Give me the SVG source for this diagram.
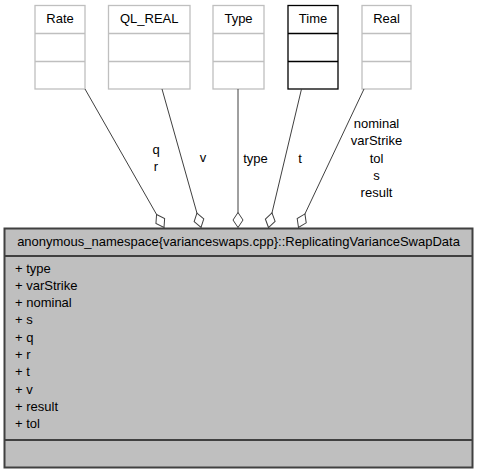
<svg xmlns="http://www.w3.org/2000/svg" width="477" height="475" viewBox="0 0 477 475">
<style>
text{font-family:"Liberation Sans",Arial,sans-serif;font-size:13px;fill:#000}
.c{text-anchor:middle}
.box{fill:#fff;stroke:#bfbfbf;stroke-width:1.3}
.dark{fill:#fff;stroke:#000;stroke-width:1.3}
.main{fill:#bfbfbf;stroke:#404040;stroke-width:2}
.edge{fill:none;stroke:#404040;stroke-width:1;marker-end:url(#od)}
</style>
<defs>
<marker id="od" markerUnits="userSpaceOnUse" markerWidth="20" markerHeight="14" viewBox="-1 -7 18 14" refX="15" refY="0" orient="auto" overflow="visible">
<path d="M0,0 L7.5,-5 L15,0 L7.5,5 Z" fill="#fff" stroke="#404040" stroke-width="1"/>
</marker>
</defs>
<rect width="477" height="475" fill="#fff"/>
<g id="node-Rate">
<rect class="box" x="35" y="5.5" width="50" height="83.5"/>
<line class="box" x1="35" y1="33.5" x2="85" y2="33.5"/>
<line class="box" x1="35" y1="61.5" x2="85" y2="61.5"/>
<text class="c" x="60" y="23">Rate</text>
</g>
<g id="node-QL_REAL">
<rect class="box" x="108.5" y="5.5" width="81.5" height="83.5"/>
<line class="box" x1="108.5" y1="33.5" x2="190" y2="33.5"/>
<line class="box" x1="108.5" y1="61.5" x2="190" y2="61.5"/>
<text class="c" x="149.25" y="23">QL_REAL</text>
</g>
<g id="node-Type">
<rect class="box" x="213" y="5.5" width="51" height="83.5"/>
<line class="box" x1="213" y1="33.5" x2="264" y2="33.5"/>
<line class="box" x1="213" y1="61.5" x2="264" y2="61.5"/>
<text class="c" x="238.5" y="23">Type</text>
</g>
<g id="node-Time">
<rect class="dark" x="288" y="5.5" width="50" height="83.5"/>
<line class="dark" x1="288" y1="33.5" x2="338" y2="33.5"/>
<line class="dark" x1="288" y1="61.5" x2="338" y2="61.5"/>
<text class="c" x="313" y="23">Time</text>
</g>
<g id="node-Real">
<rect class="box" x="362" y="5.5" width="49" height="83.5"/>
<line class="box" x1="362" y1="33.5" x2="411" y2="33.5"/>
<line class="box" x1="362" y1="61.5" x2="411" y2="61.5"/>
<text class="c" x="386.5" y="23">Real</text>
</g>
<g id="node-ReplicatingVarianceSwapData">
<rect class="main" x="4.5" y="228.5" width="468" height="239"/>
<line class="main" x1="4.5" y1="256" x2="472.5" y2="256"/>
<line class="main" x1="4.5" y1="440" x2="472.5" y2="440"/>
<text class="c" x="238.5" y="245.5">anonymous_namespace{varianceswaps.cpp}::ReplicatingVarianceSwapData</text>
<text x="15" y="272.5">+ type</text>
<text x="15" y="289.8">+ varStrike</text>
<text x="15" y="307.1">+ nominal</text>
<text x="15" y="324.4">+ s</text>
<text x="15" y="341.7">+ q</text>
<text x="15" y="359">+ r</text>
<text x="15" y="376.3">+ t</text>
<text x="15" y="393.6">+ v</text>
<text x="15" y="410.9">+ result</text>
<text x="15" y="428.2">+ tol</text>
</g>
<g id="edges">
<path class="edge" d="M85,89 L164,227.5"/>
<path class="edge" d="M162,89 L201,227.5"/>
<path class="edge" d="M238,89 L238,227.5"/>
<path class="edge" d="M301.5,89 L268.5,227.5"/>
<path class="edge" d="M364,89 L298.5,227.5"/>
<text class="c" x="156" y="153.5">q</text>
<text class="c" x="156" y="170.8">r</text>
<text class="c" x="203" y="162">v</text>
<text class="c" x="255.5" y="162.5">type</text>
<text class="c" x="300" y="162.5">t</text>
<text class="c" x="376.5" y="128">nominal</text>
<text class="c" x="376.5" y="145.3">varStrike</text>
<text class="c" x="376.5" y="162.6">tol</text>
<text class="c" x="376.5" y="179.9">s</text>
<text class="c" x="376.5" y="197.2">result</text>
</g>
</svg>
